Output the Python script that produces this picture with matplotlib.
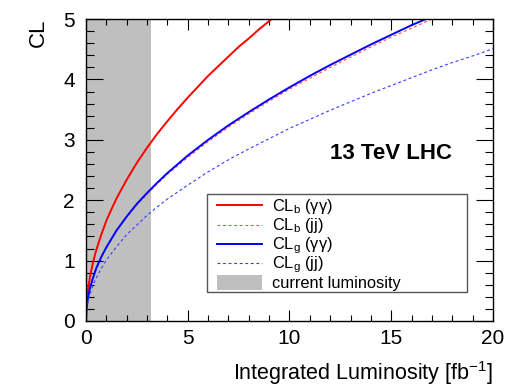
import numpy as np
import matplotlib.pyplot as plt
from matplotlib.ticker import MultipleLocator
from matplotlib.lines import Line2D
from matplotlib import patches

plt.rcParams['font.family'] = ['Liberation Sans', 'DejaVu Sans']
plt.rcParams['mathtext.fontset'] = 'custom'
plt.rcParams['mathtext.rm'] = 'Liberation Sans'
plt.rcParams['mathtext.it'] = 'Liberation Sans:italic'

# luminosity already collected [fb^-1]
current_lumi = 3.2

# CL_b (gamma gamma), red solid
lumi_b_aa = [0, 0.02, 0.05, 0.1, 0.2, 0.35, 0.5, 0.75, 1, 1.25, 1.5, 2, 2.5,
             3, 3.5, 4, 4.5, 5, 5.5, 6, 6.5, 7, 7.5, 8, 8.5, 9.12]
cl_b_aa = [0, 0.24, 0.37, 0.52, 0.74, 0.98, 1.17, 1.43, 1.66, 1.85, 2.03,
           2.34, 2.62, 2.87, 3.10, 3.31, 3.51, 3.70, 3.88, 4.06, 4.22, 4.38,
           4.54, 4.68, 4.83, 5.0]

# CL_b (jj), red dashed
lumi_b_jj = [0, 0.02, 0.05, 0.1, 0.2, 0.35, 0.5, 0.75, 1, 1.5, 2, 2.5, 3,
             3.5, 4, 5, 6, 7, 8, 9, 10, 11, 12, 13, 14, 15, 16, 17]
cl_b_jj = [0, 0.17, 0.27, 0.38, 0.54, 0.72, 0.86, 1.05, 1.21, 1.49, 1.72,
           1.92, 2.10, 2.27, 2.43, 2.71, 2.97, 3.21, 3.43, 3.64, 3.84, 4.02,
           4.20, 4.37, 4.54, 4.70, 4.85, 5.0]

# CL_g (gamma gamma), blue solid
lumi_g_aa = [0, 0.02, 0.05, 0.1, 0.2, 0.35, 0.5, 0.75, 1, 1.5, 2, 2.5, 3,
             3.5, 4, 5, 6, 7, 8, 9, 10, 11, 12, 13, 14, 15, 16, 16.7]
cl_g_aa = [0, 0.17, 0.27, 0.39, 0.55, 0.72, 0.87, 1.06, 1.22, 1.50, 1.73,
           1.94, 2.12, 2.29, 2.45, 2.74, 3.00, 3.24, 3.46, 3.67, 3.87, 4.06,
           4.24, 4.41, 4.58, 4.74, 4.90, 5.0]

# CL_g (jj), blue dashed
lumi_g_jj = [0, 0.02, 0.05, 0.1, 0.2, 0.35, 0.5, 0.75, 1, 1.5, 2, 2.5, 3,
             3.5, 4, 5, 6, 7, 8, 9, 10, 11, 12, 13, 14, 15, 16, 17, 18, 19, 20]
cl_g_jj = [0, 0.14, 0.23, 0.32, 0.45, 0.60, 0.71, 0.87, 1.01, 1.23, 1.43,
           1.59, 1.75, 1.89, 2.02, 2.25, 2.47, 2.67, 2.85, 3.02, 3.19, 3.34,
           3.49, 3.63, 3.77, 3.90, 4.03, 4.16, 4.28, 4.39, 4.51]

legend_labels = [r'CL$_\mathrm{b}$ (γγ)', r'CL$_\mathrm{b}$ (jj)',
                 r'CL$_\mathrm{g}$ (γγ)', r'CL$_\mathrm{g}$ (jj)',
                 'current luminosity']

shade_color = '#bfbfbf'
dash = (0, (2.6, 2.4))

fig = plt.figure(figsize=(5.19, 3.90), dpi=100)
ax = fig.add_axes([0.1657, 0.177, 0.7842, 0.774])

ax.axvspan(0, current_lumi, color=shade_color, lw=0, zorder=0)
styles = [dict(color='red', lw=1.4),
          dict(color='#ff4a4a', lw=0.8, ls=dash),
          dict(color='blue', lw=1.4),
          dict(color='#3a3aff', lw=0.8, ls=dash)]
for (xs, ys), st in zip([(lumi_b_aa, cl_b_aa), (lumi_b_jj, cl_b_jj),
                         (lumi_g_aa, cl_g_aa), (lumi_g_jj, cl_g_jj)], styles):
    ax.plot(xs, ys, **st)

ax.set_xlim(0, 20)
ax.set_ylim(0, 5)
ax.xaxis.set_major_locator(MultipleLocator(5))
ax.xaxis.set_minor_locator(MultipleLocator(1))
ax.yaxis.set_major_locator(MultipleLocator(1))
ax.yaxis.set_minor_locator(MultipleLocator(0.2))
ax.tick_params(which='both', direction='in', top=True, right=True,
               labelsize=15, width=0.8)
ax.tick_params(axis='x', which='major', length=8, pad=6)
ax.tick_params(axis='x', which='minor', length=4)
ax.tick_params(axis='y', which='major', length=12, pad=8)
ax.tick_params(axis='y', which='minor', length=6)
for sp in ax.spines.values():
    sp.set_linewidth(1.0)

ax.set_xlabel('Integrated Luminosity [fb$^{-1}$]', loc='right', fontsize=15.5,
              labelpad=8)
ax.set_ylabel('CL', loc='top', fontsize=16, labelpad=10)

ax.text(0.6, 0.555, '13 TeV LHC', transform=ax.transAxes, fontsize=16,
        fontweight='bold', va='center')

# ROOT style legend box, drawn by hand for even row spacing
tr = ax.transAxes
ax.add_patch(patches.Rectangle((0.297, 0.096), 0.639, 0.3245, transform=tr,
                               facecolor='white', edgecolor='#555555', lw=1.0,
                               zorder=5))
row_y = np.linspace(0.383, 0.128, 5)
for i, (yy, lab) in enumerate(zip(row_y, legend_labels)):
    if i < 4:
        ax.add_line(Line2D([0.322, 0.432], [yy, yy], transform=tr, zorder=6,
                           **styles[i]))
    else:
        ax.add_patch(patches.Rectangle((0.322, yy - 0.025), 0.110, 0.05,
                                       transform=tr, facecolor=shade_color,
                                       lw=0, zorder=6))
    ax.text(0.457, yy - 0.0175, lab, transform=tr, fontsize=11.8,
            va='baseline', ha='left', zorder=7)

fig.savefig('out.png', dpi=100)
